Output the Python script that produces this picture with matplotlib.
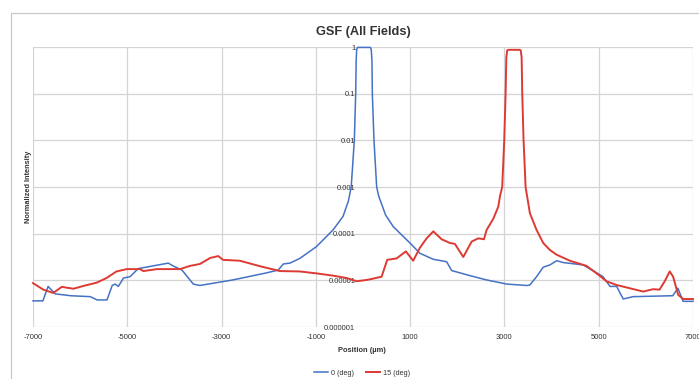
import matplotlib
matplotlib.use('Agg')
import matplotlib.pyplot as plt
from matplotlib.patches import Rectangle

# data (position in um, normalized intensity)
blue_x = [-7000, -6790, -6680, -6530, -6200, -5785, -5640, -5430, -5320, -5260, -5190, -5080, -4940, -4770,
          -4130, -4030, -3840, -3600, -3460, -2760, -2040, -1800, -1690, -1550, -1340, -990, -636, -424,
          -310, -250, -184, -155, -145, -134, -115, 155, 175, 190, 198, 233, 290, 335, 480, 643, 996, 1208,
          1491, 1774, 1880, 2268, 2622, 3046, 3470, 3540, 3682, 3823, 3965, 4110, 4250, 4670, 4955, 5090,
          5240, 5380, 5520, 5730, 6570, 6680, 6790, 7000]
blue_y = [3.63e-6, 3.63e-6, 7.41e-6, 5.13e-6, 4.68e-6, 4.47e-6, 3.80e-6, 3.80e-6, 7.76e-6, 8.32e-6, 7.41e-6,
          1.12e-5, 1.20e-5, 1.78e-5, 2.34e-5, 2.04e-5, 1.66e-5, 8.32e-6, 7.76e-6, 1.02e-5, 1.45e-5, 1.66e-5,
          2.24e-5, 2.34e-5, 2.95e-5, 5.25e-5, 1.20e-4, 2.34e-4, 5.0e-4, 1e-3, 1e-2, 0.1, 0.5, 0.89, 0.98,
          0.98, 0.89, 0.5, 0.1, 1e-2, 1e-3, 6.3e-4, 2.5e-4, 1.41e-4, 6.31e-5, 3.80e-5, 2.82e-5, 2.51e-5,
          1.62e-5, 1.26e-5, 1.02e-5, 8.32e-6, 7.76e-6, 7.94e-6, 1.20e-5, 1.91e-5, 2.14e-5, 2.63e-5, 2.40e-5,
          2.14e-5, 1.45e-5, 1.20e-5, 7.41e-6, 7.41e-6, 3.98e-6, 4.47e-6, 4.68e-6, 6.76e-6, 3.55e-6, 3.55e-6]

red_x = [-7000, -6780, -6570, -6390, -6140, -5930, -5650, -5440, -5230, -5010, -4730, -4660, -4370, -3880,
         -3670, -3460, -3240, -3070, -2970, -2610, -2180, -1760, -1340, -990, -636, -346, -134, 78, 184,
         395, 514, 713, 909, 1064, 1208, 1350, 1491, 1668, 1845, 1950, 2127, 2304, 2445, 2565, 2622, 2764,
         2870, 2905, 2953, 2996, 3025, 3040, 3060, 3085, 3320, 3345, 3365, 3378, 3406, 3449, 3540, 3682,
         3823, 3965, 4105, 4388, 4742, 4955, 5166, 5378, 5943, 6155, 6290, 6400, 6507, 6578, 6685, 6790, 7000]
red_y = [8.71e-6, 6.31e-6, 5.37e-6, 7.24e-6, 6.61e-6, 7.59e-6, 8.91e-6, 1.12e-5, 1.55e-5, 1.74e-5, 1.74e-5,
         1.58e-5, 1.74e-5, 1.74e-5, 2.04e-5, 2.24e-5, 3.02e-5, 3.31e-5, 2.75e-5, 2.63e-5, 2.00e-5, 1.58e-5,
         1.55e-5, 1.41e-5, 1.26e-5, 1.12e-5, 9.55e-6, 1.02e-5, 1.07e-5, 1.20e-5, 2.75e-5, 2.95e-5, 4.17e-5,
         2.63e-5, 5.01e-5, 7.94e-5, 1.12e-4, 7.59e-5, 6.31e-5, 6.03e-5, 3.16e-5, 6.76e-5, 7.94e-5, 7.59e-5,
         1.20e-4, 2.09e-4, 3.80e-4, 6.31e-4, 1e-3, 1e-2, 0.1, 0.6, 0.85, 0.87, 0.87, 0.85, 0.6, 0.1, 1e-2,
         1e-3, 2.75e-4, 1.20e-4, 6.31e-5, 4.47e-5, 3.55e-5, 2.63e-5, 2.04e-5, 1.41e-5, 9.55e-6, 7.94e-6,
         5.75e-6, 6.46e-6, 6.31e-6, 9.55e-6, 1.55e-5, 1.20e-5, 4.90e-6, 3.98e-6, 3.98e-6]

xticks = [-7000, -5000, -3000, -1000, 1000, 3000, 5000, 7000]
yticks = [1e-6, 1e-5, 1e-4, 1e-3, 1e-2, 1e-1, 1]
ytick_labels = ['0.000001', '0.00001', '0.0001', '0.001', '0.01', '0.1', '1']

plt.rcParams['font.family'] = ['Liberation Sans', 'DejaVu Sans']
fig = plt.figure(figsize=(6.99, 3.79), dpi=100)
ax = fig.add_axes([33/699, 1-327/379, 660/699, 280/379])

ax.plot(blue_x, blue_y, color='#4472C4', lw=1.1, label='0 (deg)', clip_on=False, zorder=3)
ax.plot(red_x, red_y, color='#DD3A33', lw=1.4, label='15 (deg)', clip_on=False, zorder=3)

ax.set_yscale('log')
ax.set_xlim(-7000, 7000); ax.set_ylim(1e-6, 1)
ax.set_xticks(xticks); ax.set_xticklabels([str(v) for v in xticks])
ax.set_yticks(yticks); ax.set_yticklabels(ytick_labels)
ax.minorticks_off()
ax.grid(True, color='#d4d4d4', lw=0.9)
ax.set_axisbelow(True)
for s in ax.spines.values(): s.set_visible(False)
ax.spines['left'].set_position(('data', 0))
ax.tick_params(axis='both', length=0, labelsize=5.5, colors='#333333')
ax.tick_params(axis='x', pad=5)
ax.tick_params(axis='y', pad=5.5)

ax.set_title('GSF (All Fields)', fontsize=9.2, fontweight='bold', color='#333333', pad=9)
fig.text(362/699, 1-351/379, 'Position (\u00b5m)', fontsize=5.4, fontweight='bold', ha='center', va='center', color='#333333')
fig.text(29/699, 1-187/379, 'Normalized Intensity', fontsize=5.3, fontweight='bold', rotation=90,
         ha='center', va='center', color='#333333')

fig.legend(loc='center', bbox_to_anchor=(362/699, 1-373/379), ncol=2, frameon=False, fontsize=5.2,
           handlelength=2.0, handletextpad=0.4, columnspacing=1.6, labelcolor='#333333')

# light chart border
fig.add_artist(Rectangle((11/699, -0.1), 1.0, 1.1-13/379, transform=fig.transFigure, fill=False,
                         edgecolor='#c8c8c8', lw=0.9))

fig.savefig('out.png', dpi=100)
